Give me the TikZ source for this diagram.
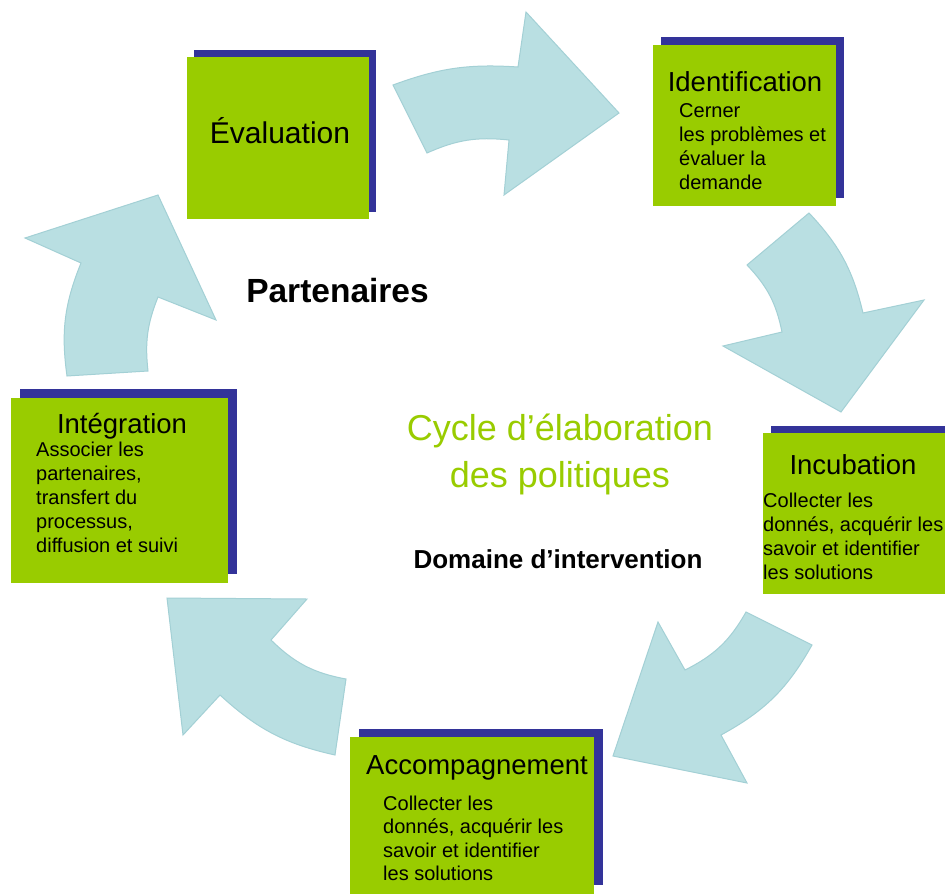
\documentclass[tikz,border=0pt]{standalone}
\usepackage{fontspec}
\setmainfont{Liberation Sans}
\definecolor{boxgreen}{HTML}{99CC00}
\definecolor{shadowblue}{HTML}{333399}
\definecolor{arrowfill}{HTML}{B9DFE2}
\definecolor{arrowedge}{HTML}{A3D0D5}
\tikzset{
  arrowshape/.style={fill=arrowfill, draw=arrowedge, line width=1pt, line join=miter},
  shadowbox/.style={fill=shadowblue},
  greenbox/.style={fill=boxgreen, anchor=north west, inner sep=0pt, outer sep=0pt},
  boxtitle/.style={font=\fontsize{27.5}{33}\selectfont, anchor=base, inner sep=0pt},
  bodyline/.style={font=\fontsize{20}{24}\selectfont, anchor=base west, inner sep=0pt},
}
\begin{document}
\begin{tikzpicture}[x=1pt,y=-1pt]
\useasboundingbox (0,0) rectangle (945,894);
\fill[white] (0,0) rectangle (945,894);

% ---- curved arrows ----
\filldraw[arrowshape] (427,153) -- (393,85) to[bend left=12] (518,67) -- (526,12) -- (619,113)
  -- (504,195) -- (509,140) to[bend right=15] (427,153) -- cycle;
\filldraw[arrowshape] (809,213) -- (747,265) to[bend left=16] (782,332) -- (723,346) -- (841,412)
  -- (924,300) -- (863,313) to[bend right=15] (809,213) -- cycle;
\filldraw[arrowshape] (746,612) -- (812,645) to[bend left=16] (721,735) -- (747,783) -- (613,756)
  -- (658,622) -- (685,670) to[bend right=17] (746,612) -- cycle;
\filldraw[arrowshape] (167,598) -- (307,599) -- (271,640) to[bend right=17] (346,679)
  -- (335,755) to[bend left=15] (220,695) -- (183,735) -- cycle;
\filldraw[arrowshape] (25,238) -- (158,195) -- (216,320) -- (158,297) to[bend right=14] (148,371)
  -- (67,376) to[bend left=15] (81,263) -- cycle;

% ---- boxes ----
\fill[shadowbox] (194,50) rectangle (376,212);
\node[greenbox, minimum width=182pt, minimum height=162pt] (evalbox) at (187,57) {};
\fill[shadowbox] (661,37) rectangle (844,198);
\node[greenbox, minimum width=183pt, minimum height=161pt] (identbox) at (653,45) {};
\fill[shadowbox] (771,426) rectangle (954,587);
\node[greenbox, minimum width=183pt, minimum height=161pt] (incubox) at (763,433) {};
\fill[shadowbox] (359,729) rectangle (603,885);
\node[greenbox, minimum width=244pt, minimum height=157pt] (accobox) at (350,737) {};
\fill[shadowbox] (20,389) rectangle (237,574);
\node[greenbox, minimum width=217pt, minimum height=185pt] (integbox) at (11,398) {};

% ---- box texts ----
\node[boxtitle, font=\fontsize{30}{36}\selectfont] (evaltitle) at (280,143) {Évaluation};

\node[boxtitle] (identtitle) at (745,91) {Identification};
\node[bodyline] (ident1) at (679,117.5) {Cerner};
\node[bodyline] (ident2) at (679,141.5) {les problèmes et};
\node[bodyline] (ident3) at (679,165.5) {évaluer la};
\node[bodyline] (ident4) at (679,189.5) {demande};

\node[boxtitle] (incutitle) at (853,474) {Incubation};
\node[bodyline] (incu1) at (763,507) {Collecter les};
\node[bodyline] (incu2) at (763,531) {donnés, acquérir les};
\node[bodyline] (incu3) at (763,555) {savoir et identifier};
\node[bodyline] (incu4) at (763,579) {les solutions};

\node[boxtitle] (accotitle) at (477,774) {Accompagnement};
\node[bodyline] (acco1) at (383,810) {Collecter les};
\node[bodyline] (acco2) at (383,833.5) {donnés, acquérir les};
\node[bodyline] (acco3) at (383,857) {savoir et identifier};
\node[bodyline] (acco4) at (383,880.5) {les solutions};

\node[boxtitle] (integtitle) at (122,433) {Intégration};
\node[bodyline] (integ1) at (36,456) {Associer les};
\node[bodyline] (integ2) at (36,480) {partenaires,};
\node[bodyline] (integ3) at (36,504) {transfert du};
\node[bodyline] (integ4) at (36,528) {processus,};
\node[bodyline] (integ5) at (36,552) {diffusion et suivi};

% ---- central texts ----
\node[anchor=base, inner sep=0pt, font=\bfseries\fontsize{33.5}{40}\selectfont] (partenaires) at (337.5,302) {Partenaires};
\node[anchor=base, inner sep=0pt, text=boxgreen, font=\fontsize{36}{43}\selectfont] (cycle1) at (560,440) {Cycle d’élaboration};
\node[anchor=base, inner sep=0pt, text=boxgreen, font=\fontsize{36}{43}\selectfont] (cycle2) at (560,487) {des politiques};
\node[anchor=base, inner sep=0pt, font=\bfseries\fontsize{26}{31}\selectfont] (domaine) at (558,568) {Domaine d’intervention};
\end{tikzpicture}
\end{document}
